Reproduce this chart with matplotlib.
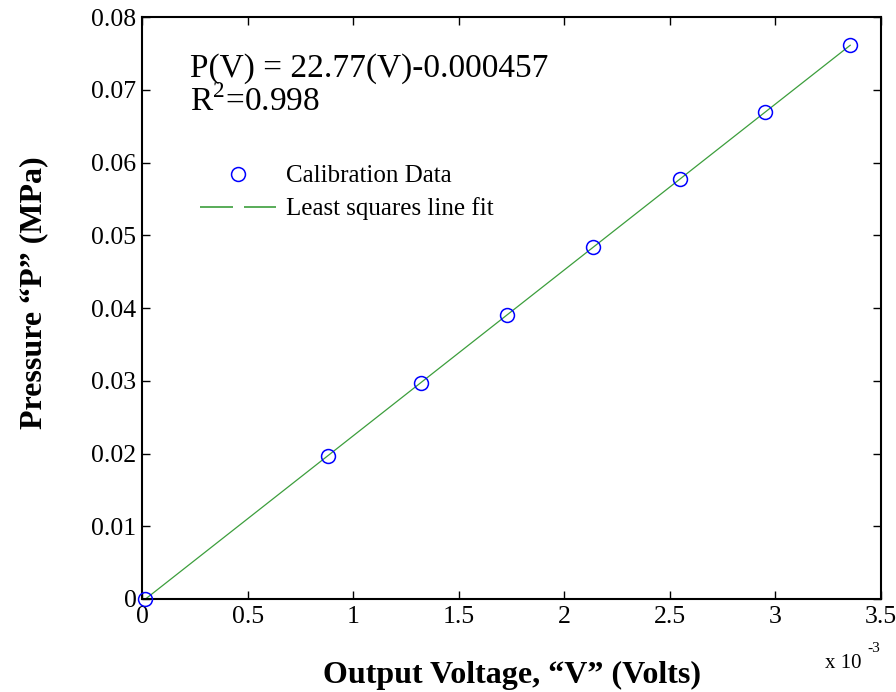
import numpy as np
import matplotlib
matplotlib.use("Agg")
import matplotlib.pyplot as plt
from matplotlib.lines import Line2D
from matplotlib.ticker import FuncFormatter

plt.rcParams['font.family'] = ['Liberation Serif', 'DejaVu Serif']
plt.rcParams['mathtext.fontset'] = 'custom'
plt.rcParams['mathtext.rm'] = 'Liberation Serif'

# calibration data (voltage in volts, pressure in MPa)
voltage = [0.000014, 0.000880, 0.001322, 0.001729, 0.002136, 0.002549, 0.002951, 0.003354]
pressure = [0.0000, 0.0197, 0.0297, 0.0390, 0.0484, 0.0577, 0.0669, 0.0762]

x_ticks = [0, 0.0005, 0.001, 0.0015, 0.002, 0.0025, 0.003, 0.0035]
y_ticks = [0, 0.01, 0.02, 0.03, 0.04, 0.05, 0.06, 0.07, 0.08]

v = np.array(voltage)
p = np.array(pressure)
slope, icpt = np.polyfit(v, p, 1)
v_fit = np.array([v[0], v[-1]])

fig = plt.figure(figsize=(8.96, 6.92), dpi=100)
ax = fig.add_axes([0.1585, 0.1344, 0.8248, 0.841])

ax.plot(v_fit, slope * v_fit + icpt, color='#3c9e3c', lw=0.9, zorder=2)
ax.plot(v, p, 'o', mfc='none', mec='blue', ms=10, mew=1.1, zorder=3, clip_on=False)

ax.set_xlim(0, 0.0035)
ax.set_ylim(0, 0.08)
ax.set_xticks(x_ticks)
ax.set_yticks(y_ticks)
ax.xaxis.set_major_formatter(FuncFormatter(lambda x, pos: f"{x*1e3:g}"))
ax.yaxis.set_major_formatter(FuncFormatter(lambda y, pos: f"{y:g}"))
ax.tick_params(direction='in', length=6, width=1, top=True, right=True, labelsize=18.5)
ax.tick_params(axis='x', pad=5)
ax.tick_params(axis='y', pad=4)
for s in ax.spines.values():
    s.set_linewidth(1.5)

ax.set_xlabel("Output Voltage, \u201cV\u201d (Volts)", fontsize=23, fontweight='bold', labelpad=24)
ax.set_ylabel("Pressure \u201cP\u201d (MPa)", fontsize=23, fontweight='bold')
ax.yaxis.set_label_coords(-0.127, 0.526)

ax.text(0.000227, 0.0718, "P(V) = 22.77(V)-0.000457", fontsize=24, va='baseline')
ax.text(0.000227, 0.0671, "R$^{2}$=0.998", fontsize=24, va='baseline')
fig.text(825 / 896, 1 - 668 / 692, "x 10", fontsize=15, va='baseline')
fig.text(867 / 896, 1 - 652 / 692, "-3", fontsize=11, va='baseline')

h1 = Line2D([], [], ls='none', marker='o', mfc='none', mec='blue', ms=10, mew=1.1)
h2 = Line2D([], [], color='#3c9e3c', lw=1.2, dashes=(19.8, 6.6))
ax.legend([h1, h2], ["Calibration Data", "Least squares line fit"], loc='upper left',
          bbox_to_anchor=(0.065, 0.763), frameon=False, fontsize=18, handlelength=3.05,
          handletextpad=0.4, labelspacing=0.4, borderaxespad=0)

fig.savefig("out.png", dpi=100)
